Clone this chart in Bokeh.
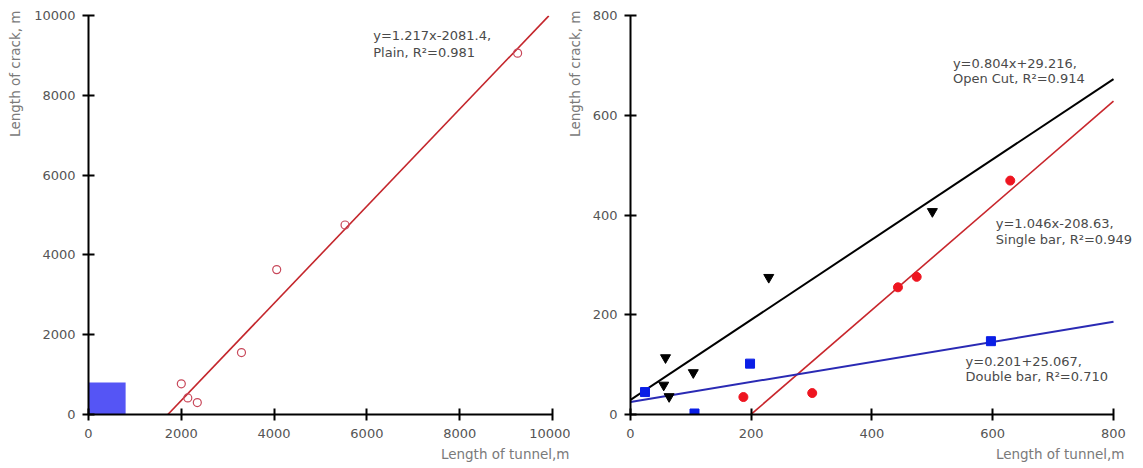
from bokeh.plotting import figure
from bokeh.layouts import row
from bokeh.models import Range1d, FixedTicker, Title, Label
from bokeh.embed import file_html
from bokeh.resources import INLINE

# ---------------- data ----------------
# Left panel: plain concrete
plain_tunnel = [2000, 2140, 2345, 3297, 4056, 5529, 9248]
plain_crack = [770, 415, 300, 1553, 3631, 4750, 9057]
plain_fit = {"slope": 1.217, "intercept": -2081.4, "x0": 1710, "x1": 9920}
plain_box_x = [0, 800]
plain_box_y = [0, 800]
plain_text = ["y=1.217x-2081.4,", "Plain, R\u00b2=0.981"]

# Right panel
open_tunnel = [58, 55, 64, 104, 229, 500]
open_crack = [114, 59, 36, 84, 275, 407]
open_fit = {"slope": 0.804, "intercept": 29.216, "x0": 0, "x1": 800}
open_text = ["y=0.804x+29.216,", "Open Cut, R\u00b2=0.914"]

single_tunnel = [187, 301, 443, 474, 629]
single_crack = [35, 43, 255, 276, 469]
single_fit = {"slope": 1.046, "intercept": -208.63, "x0": 199.5, "x1": 800}
single_text = ["y=1.046x-208.63,", "Single bar, R\u00b2=0.949"]

double_tunnel = [24, 106, 198, 597]
double_crack = [45, 2, 102, 147]
double_fit = {"slope": 0.201, "intercept": 25.067, "x0": 0, "x1": 800}
double_text = ["y=0.201+25.067,", "Double bar, R\u00b2=0.710"]

left_ticks = [0, 2000, 4000, 6000, 8000, 10000]
right_ticks = [0, 200, 400, 600, 800]

FONT = "DejaVu Sans"
H = 468


def fit_line(p, fit, color, width):
    xs = [fit["x0"], fit["x1"]]
    ys = [fit["slope"] * x + fit["intercept"] for x in xs]
    p.line(xs, ys, line_color=color, line_width=width)


def style(p, ticks, xoff, yoff, ystand, bounds):
    for ax in (p.xaxis[0], p.yaxis[0]):
        ax.ticker = FixedTicker(ticks=ticks)
        ax.bounds = bounds
        ax.axis_line_width = 2
        ax.axis_line_color = "black"
        ax.major_tick_line_width = 2
        ax.major_tick_line_color = "black"
        ax.major_tick_in = 6
        ax.major_tick_out = 6
        ax.minor_tick_line_color = None
        ax.major_label_text_font = FONT
        ax.major_label_text_font_size = "13px"
        ax.major_label_text_color = "#555555"
    p.xaxis[0].major_label_standoff = 8
    p.yaxis[0].major_label_standoff = 7
    p.xgrid.visible = False
    p.ygrid.visible = False
    p.outline_line_color = None
    p.background_fill_color = "white"
    p.add_layout(Title(text="Length of crack, m", align="right", text_font=FONT,
                       text_font_size="13.5px", text_font_style="normal",
                       text_color="#7a7a7a", offset=yoff, standoff=ystand), "left")
    p.add_layout(Title(text="Length of tunnel,m", align="right", text_font=FONT,
                       text_font_size="13.5px", text_font_style="normal",
                       text_color="#7a7a7a", offset=xoff, standoff=7), "below")


def annot(p, x, ys, lines):
    for yy, t in zip(ys, lines):
        p.add_layout(Label(x=x, y=yy, text=t, text_font=FONT, text_font_size="13px",
                           text_color="#4a4a4a", text_align="left",
                           text_baseline="middle"))


# ---------------- left figure ----------------
p1 = figure(width=575, height=H, output_backend="svg",
            toolbar_location=None, x_range=Range1d(0, 10000), y_range=Range1d(0, 10000),
            min_border_left=93, min_border_right=18, min_border_top=15,
            min_border_bottom=54)
style(p1, left_ticks, -17, -5, 18, (0, 10000))
p1.border_fill_color = "white"
p1.margin = (0, 0, 0, -5)
p1.quad(left=plain_box_x[0], right=plain_box_x[1], bottom=plain_box_y[0], top=plain_box_y[1],
        fill_color="#5555f5", line_color=None)
fit_line(p1, plain_fit, "#c4262c", 1.6)
p1.scatter(plain_tunnel, plain_crack, marker="circle", size=8, fill_color=None,
           line_color="#c8485a", line_width=1.2)
annot(p1, 6137, [9499, 9070], plain_text)

# ---------------- right figure ----------------
# x range runs a little past 800 so that the annotation text is not cut off;
# the axis itself is bounded to 0..800
p2 = figure(width=586, height=H, output_backend="svg",
            toolbar_location=None, x_range=Range1d(0, 849.7), y_range=Range1d(0, 800),
            min_border_left=73, min_border_right=0, min_border_top=15,
            min_border_bottom=51)
style(p2, right_ticks, 19, -5, 14, (0, 800))
p2.border_fill_color = None
p2.margin = (0, 0, 0, -13)
fit_line(p2, open_fit, "black", 2)
fit_line(p2, single_fit, "#c8262c", 1.6)
fit_line(p2, double_fit, "#2a2ab4", 2)
p2.scatter(open_tunnel, open_crack, marker="inverted_triangle", size=10,
           fill_color="black", line_color="black")
p2.scatter(single_tunnel, single_crack, marker="circle", size=9,
           fill_color="#ee1520", line_color="#ee1520")
p2.scatter(double_tunnel, double_crack, marker="square", size=9,
           fill_color="#0a1ee6", line_color="#0a1ee6")
annot(p2, 534, [704, 674], open_text)
annot(p2, 605, [382, 351], single_text)
annot(p2, 555, [107, 77], double_text)

layout = row(p1, p2)
open("out.html", "w").write(file_html(layout, INLINE))
